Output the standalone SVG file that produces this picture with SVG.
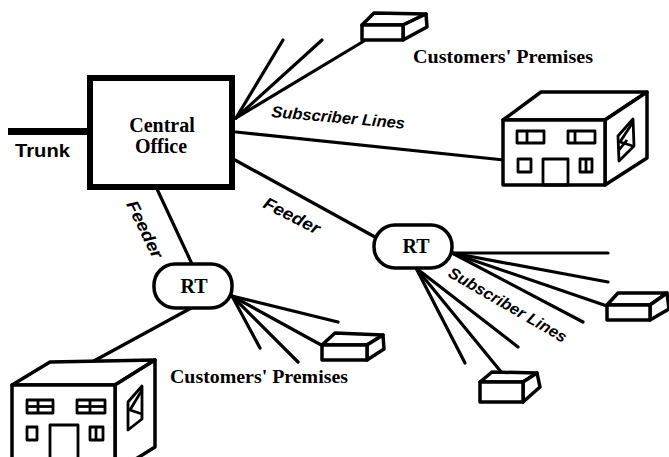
<svg xmlns="http://www.w3.org/2000/svg" width="669" height="457" viewBox="0 0 669 457">
  <style>
    .ln { fill: none; stroke: #000; stroke-width: 3.2; stroke-linecap: round; stroke-linejoin: round; }
    .shape { fill: #fff; stroke: #000; stroke-width: 3.5; stroke-linejoin: round; }
    .detail { fill: none; stroke: #000; stroke-width: 2.8; stroke-linejoin: round; }
    .serif { font-family: "Liberation Serif", "Times New Roman", serif; font-weight: bold; fill: #000; }
    .sans { font-family: "Liberation Sans", Arial, sans-serif; font-weight: bold; fill: #000; }
    .slant { font-style: italic; }
  </style>
  <rect width="669" height="457" fill="#fff"/>

  <!-- connectors -->
  <g id="connectors">
    <line id="trunk" x1="8" y1="131.5" x2="88" y2="131.5" stroke="#000" stroke-width="7"/>
    <!-- central office subscriber lines -->
    <line class="ln" x1="236" y1="118" x2="283" y2="40"/>
    <line class="ln" x1="236" y1="118" x2="322" y2="40"/>
    <line class="ln" x1="236" y1="118" x2="364" y2="41"/>
    <line class="ln" x1="236" y1="132" x2="504" y2="160"/>
    <!-- feeders -->
    <line class="ln" x1="235" y1="160" x2="375" y2="237"/>
    <line class="ln" x1="157" y1="189" x2="192" y2="264"/>
    <!-- left RT drops -->
    <line class="ln" x1="193" y1="307" x2="92" y2="362"/>
    <line class="ln" x1="232" y1="296" x2="338" y2="322"/>
    <line class="ln" x1="232" y1="296" x2="323" y2="346"/>
    <line class="ln" x1="232" y1="296" x2="298" y2="362"/>
    <line class="ln" x1="232" y1="296" x2="260" y2="348"/>
    <!-- right RT drops -->
    <line class="ln" x1="452" y1="253" x2="608" y2="253"/>
    <line class="ln" x1="452" y1="253" x2="608" y2="282"/>
    <line class="ln" x1="452" y1="253" x2="607" y2="306"/>
    <line class="ln" x1="452" y1="253" x2="583" y2="322"/>
    <line class="ln" x1="416" y1="268" x2="518" y2="347"/>
    <line class="ln" x1="416" y1="268" x2="465" y2="363"/>
    <line class="ln" x1="416" y1="268" x2="502" y2="373"/>
  </g>

  <!-- central office -->
  <g id="central-office">
    <rect x="90" y="78" width="142" height="109" fill="#fff" stroke="#000" stroke-width="6"/>
    <text class="serif" x="162" y="132" font-size="20" text-anchor="middle">Central</text>
    <text class="serif" x="161" y="153" font-size="20" text-anchor="middle">Office</text>
  </g>

  <g id="trunk-label">
    <text class="sans" x="15" y="157" font-size="19" textLength="55" lengthAdjust="spacingAndGlyphs">Trunk</text>
  </g>

  <!-- remote terminals -->
  <g id="rt-left">
    <rect x="154" y="264" width="78" height="44" rx="21" class="shape"/>
    <text class="serif" x="194" y="293" font-size="20" text-anchor="middle">RT</text>
  </g>
  <g id="rt-right">
    <rect x="374" y="225" width="78" height="43" rx="21" class="shape"/>
    <text class="serif" x="416" y="253" font-size="20" text-anchor="middle">RT</text>
  </g>

  <!-- small customer premises boxes -->
  <g id="premises-top">
    <path class="shape" d="M362 25 L374 13 L426 14 L403 25 Z"/>
    <path class="shape" d="M403 25 L426 14 L427 27 L403 40 Z"/>
    <rect class="shape" x="362" y="25" width="41" height="15"/>
  </g>
  <g id="premises-mid">
    <path class="shape" d="M322 345 L335 333 L383 335 L367 345 Z"/>
    <path class="shape" d="M367 345 L383 335 L384 349 L367 360 Z"/>
    <rect class="shape" x="322" y="345" width="45" height="15"/>
  </g>
  <g id="premises-right">
    <path class="shape" d="M607 305 L618 293 L667 293 L650 305 Z"/>
    <path class="shape" d="M650 305 L667 293 L669 309 L650 320 Z"/>
    <rect class="shape" x="607" y="305" width="43" height="15"/>
  </g>
  <g id="premises-bottom">
    <path class="shape" d="M480 382 L492 372 L537 373 L523 382 Z"/>
    <path class="shape" d="M523 382 L537 373 L540 387 L523 402 Z"/>
    <rect class="shape" x="480" y="382" width="43" height="20"/>
  </g>

  <!-- buildings -->
  <g id="building-right">
    <path class="shape" d="M503 120 L541 92 L647 92 L605 120 Z"/>
    <path class="shape" d="M605 120 L647 92 L647 158 L605 185 Z"/>
    <rect class="shape" x="503" y="120" width="102" height="65"/>
    <rect class="detail" x="517" y="131" width="27" height="12"/>
    <line class="detail" x1="527" y1="131" x2="527" y2="143"/>
    <rect class="detail" x="568" y="131" width="27" height="12"/>
    <line class="detail" x1="575" y1="131" x2="575" y2="143"/>
    <rect class="detail" x="518" y="159" width="13" height="13"/>
    <rect class="detail" x="543" y="159" width="25" height="26"/>
    <rect class="detail" x="580" y="159" width="12" height="13"/>
    <line class="detail" x1="586" y1="159" x2="586" y2="172"/>
    <path class="detail" d="M618 136 L633 119 L634 146 L619 161 Z"/>
    <path class="detail" d="M633 122 L620 142 L633 146 M619 150 L627 140"/>
  </g>
  <g id="building-left">
    <path class="shape" d="M12 385 L50 362 L155 360 L115 385 Z"/>
    <path class="shape" d="M115 385 L155 360 L155 447 L115 472 Z"/>
    <rect class="shape" x="12" y="385" width="103" height="80"/>
    <rect class="detail" x="27" y="400" width="26" height="13"/>
    <line class="detail" x1="27" y1="406.5" x2="53" y2="406.5"/>
    <line class="detail" x1="38" y1="400" x2="38" y2="413"/>
    <rect class="detail" x="77" y="400" width="28" height="13"/>
    <line class="detail" x1="77" y1="406.5" x2="105" y2="406.5"/>
    <line class="detail" x1="90" y1="400" x2="90" y2="413"/>
    <rect class="detail" x="27" y="427" width="10" height="13"/>
    <rect class="detail" x="50" y="425" width="28" height="40"/>
    <rect class="detail" x="90" y="427" width="13" height="13"/>
    <line class="detail" x1="96" y1="427" x2="96" y2="440"/>
    <path class="detail" d="M128 402 L142 386 L142 419 L128 430 Z"/>
    <path class="detail" d="M142 390 L130 410 L142 414"/>
  </g>

  <!-- labels -->
  <g id="labels">
    <text class="serif" x="413" y="63" font-size="19" textLength="180" lengthAdjust="spacingAndGlyphs">Customers' Premises</text>
    <text class="serif" x="170" y="383" font-size="19" textLength="178" lengthAdjust="spacingAndGlyphs">Customers' Premises</text>
    <text class="sans slant" font-size="16" textLength="134" lengthAdjust="spacingAndGlyphs" transform="translate(271 117) rotate(5)">Subscriber Lines</text>
    <text class="sans slant" font-size="16" textLength="134" lengthAdjust="spacingAndGlyphs" transform="translate(447 276) rotate(30)">Subscriber Lines</text>
    <text class="sans slant" font-size="17" textLength="61" lengthAdjust="spacingAndGlyphs" transform="translate(262 207) rotate(27)">Feeder</text>
    <text class="sans slant" font-size="17" textLength="62" lengthAdjust="spacingAndGlyphs" transform="translate(126 204) rotate(64)">Feeder</text>
  </g>
</svg>
